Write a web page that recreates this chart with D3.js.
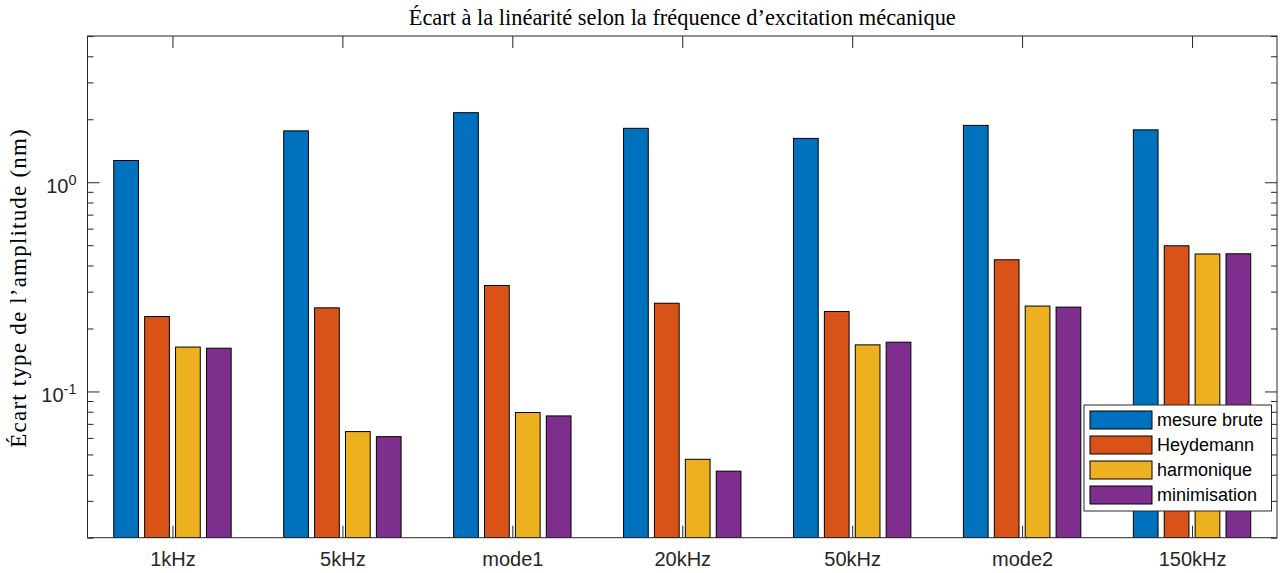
<!DOCTYPE html>
<html>
<head>
<meta charset="utf-8">
<script src="https://cdn.jsdelivr.net/npm/d3@7"></script>
<style>
  html, body { margin: 0; padding: 0; background: #fff; }
  svg { display: block; }
</style>
</head>
<body>
<svg id="chart" width="1280" height="573"></svg>
<script>
// Frequency cases on the x axis
const categories = ["1kHz", "5kHz", "mode1", "20kHz", "50kHz", "mode2", "150kHz"];

// Standard deviation of the amplitude (nm) for each correction method
const seriesNames = ["mesure brute", "Heydemann", "harmonique", "minimisation"];
const mesureBrute  = [1.27, 1.76, 2.15, 1.81, 1.62, 1.87, 1.78];
const heydemann    = [0.228, 0.251, 0.321, 0.264, 0.241, 0.426, 0.497];
const harmonique   = [0.163, 0.0643, 0.0793, 0.0474, 0.167, 0.256, 0.454];
const minimisation = [0.161, 0.0608, 0.0764, 0.0416, 0.172, 0.253, 0.455];
const seriesValues = [mesureBrute, heydemann, harmonique, minimisation];
const seriesColors = ["#0072BD", "#D95319", "#EDB120", "#7E2F8E"];

// Axis ticks
const yMajorTicks = [0.1, 1];
const yMajorExponents = ["-1", "0"];
const yMinorTicks = [0.02, 0.03, 0.04, 0.05, 0.06, 0.07, 0.08, 0.09,
                     0.2, 0.3, 0.4, 0.5, 0.6, 0.7, 0.8, 0.9, 2, 3, 4, 5];
const yDomain = [0.02, 5];

const title = "Écart à la linéarité selon la fréquence d\u2019excitation mécanique";
const yLabel = "Écart type de l\u2019amplitude (nm)";

const svg = d3.select("#chart");
const plotLeft = 87.5, plotRight = 1277, plotTop = 36, plotBottom = 537.7;
const axisColor = "#262626";
const sansFont = "'Liberation Sans', Arial, Helvetica, sans-serif";
const serifFont = "'Liberation Serif', 'Times New Roman', serif";

const x = d3.scaleLinear().domain([0.5, categories.length + 0.5]).range([plotLeft, plotRight]);
const y = d3.scaleLog().domain(yDomain).range([plotBottom, plotTop]);

// Grouped bar geometry (data units along x)
const nSeries = seriesValues.length;
const groupWidth = Math.min(0.8, nSeries / (nSeries + 1.5));
const slot = groupWidth / nSeries;
const barWidth = 0.8 * slot;

svg.append("defs").append("clipPath").attr("id", "plot-clip")
  .append("rect").attr("x", plotLeft).attr("y", plotTop)
  .attr("width", plotRight - plotLeft).attr("height", plotBottom - plotTop);

// Axis ticks (drawn beneath the bars)
const axes = svg.append("g").attr("class", "axes");

function styleAxis(g) {
  g.select(".domain").remove();
  g.selectAll(".tick line").attr("stroke", axisColor).attr("stroke-width", 1);
  g.selectAll(".tick text").attr("fill", axisColor);
}

axes.append("g")
  .attr("transform", `translate(0,${plotBottom})`)
  .call(d3.axisBottom(x)
    .tickValues(d3.range(1, categories.length + 1))
    .tickSizeInner(-12).tickSizeOuter(0).tickPadding(14)
    .tickFormat(d => categories[d - 1]))
  .call(styleAxis)
  .call(g => g.selectAll(".tick text")
    .attr("font-family", sansFont).attr("font-size", 20));

axes.append("g")
  .attr("transform", `translate(0,${plotTop})`)
  .call(d3.axisTop(x)
    .tickValues(d3.range(1, categories.length + 1))
    .tickSizeInner(-12).tickSizeOuter(0).tickFormat(""))
  .call(styleAxis);

const yLeft = axes.append("g").attr("transform", `translate(${plotLeft},0)`);
yLeft.append("g")
  .call(d3.axisLeft(y).tickValues(yMinorTicks).tickSizeInner(-6).tickSizeOuter(0).tickFormat(""))
  .call(styleAxis);
yLeft.append("g")
  .call(d3.axisLeft(y).tickValues(yMajorTicks).tickSizeInner(-12).tickSizeOuter(0).tickFormat(""))
  .call(styleAxis)
  .call(g => g.selectAll(".tick").each(function(d, i) {
    const t = d3.select(this).append("text")
      .attr("x", -11).attr("y", 10.5).attr("text-anchor", "end")
      .attr("fill", axisColor).attr("font-family", sansFont).attr("font-size", 20);
    t.append("tspan").text("10");
    t.append("tspan").attr("dy", -8.5).attr("font-size", 14.5).text(yMajorExponents[i]);
  }));

const yRight = axes.append("g").attr("transform", `translate(${plotRight},0)`);
yRight.append("g")
  .call(d3.axisRight(y).tickValues(yMinorTicks).tickSizeInner(-6).tickSizeOuter(0).tickFormat(""))
  .call(styleAxis);
yRight.append("g")
  .call(d3.axisRight(y).tickValues(yMajorTicks).tickSizeInner(-12).tickSizeOuter(0).tickFormat(""))
  .call(styleAxis);

// Bars
const bars = svg.append("g").attr("clip-path", "url(#plot-clip)");
seriesValues.forEach((vals, j) => {
  bars.append("g").selectAll("rect")
    .data(vals)
    .join("rect")
    .attr("x", (d, i) => x(i + 1 + (j - (nSeries - 1) / 2) * slot - barWidth / 2))
    .attr("width", (d, i) => x(barWidth) - x(0))
    .attr("y", d => y(d))
    .attr("height", d => y(yDomain[0]) - y(d))
    .attr("fill", seriesColors[j])
    .attr("stroke", "#000")
    .attr("stroke-width", 1);
});

// Axes box
svg.append("rect")
  .attr("x", plotLeft).attr("y", plotTop)
  .attr("width", plotRight - plotLeft).attr("height", plotBottom - plotTop)
  .attr("fill", "none").attr("stroke", axisColor).attr("stroke-width", 1);

// Title and y label
svg.append("text")
  .attr("x", (plotLeft + plotRight) / 2).attr("y", 25)
  .attr("text-anchor", "middle")
  .attr("font-family", serifFont).attr("font-size", 22.4)
  .attr("fill", "#000")
  .text(title);

svg.append("text")
  .attr("transform", `translate(26,${(plotTop + plotBottom) / 2 + 1}) rotate(-90)`)
  .attr("text-anchor", "middle")
  .attr("font-family", serifFont).attr("font-size", 23)
  .attr("letter-spacing", 1.2)
  .attr("fill", "#000")
  .text(yLabel);

// Legend
const legend = svg.append("g");
const lgX = 1084, lgY = 405, lgW = 187.5, lgH = 106;
legend.append("rect")
  .attr("x", lgX).attr("y", lgY).attr("width", lgW).attr("height", lgH)
  .attr("fill", "#fff").attr("stroke", axisColor).attr("stroke-width", 1);
seriesNames.forEach((name, j) => {
  const cy = lgY + 15 + j * 25;
  legend.append("rect")
    .attr("x", lgX + 6).attr("y", cy - 9).attr("width", 62).attr("height", 18)
    .attr("fill", seriesColors[j]).attr("stroke", "#000").attr("stroke-width", 1);
  legend.append("text")
    .attr("x", lgX + 73).attr("y", cy).attr("dy", "0.35em")
    .attr("font-family", sansFont).attr("font-size", 18)
    .attr("fill", "#000")
    .text(name);
});
</script>
</body>
</html>
